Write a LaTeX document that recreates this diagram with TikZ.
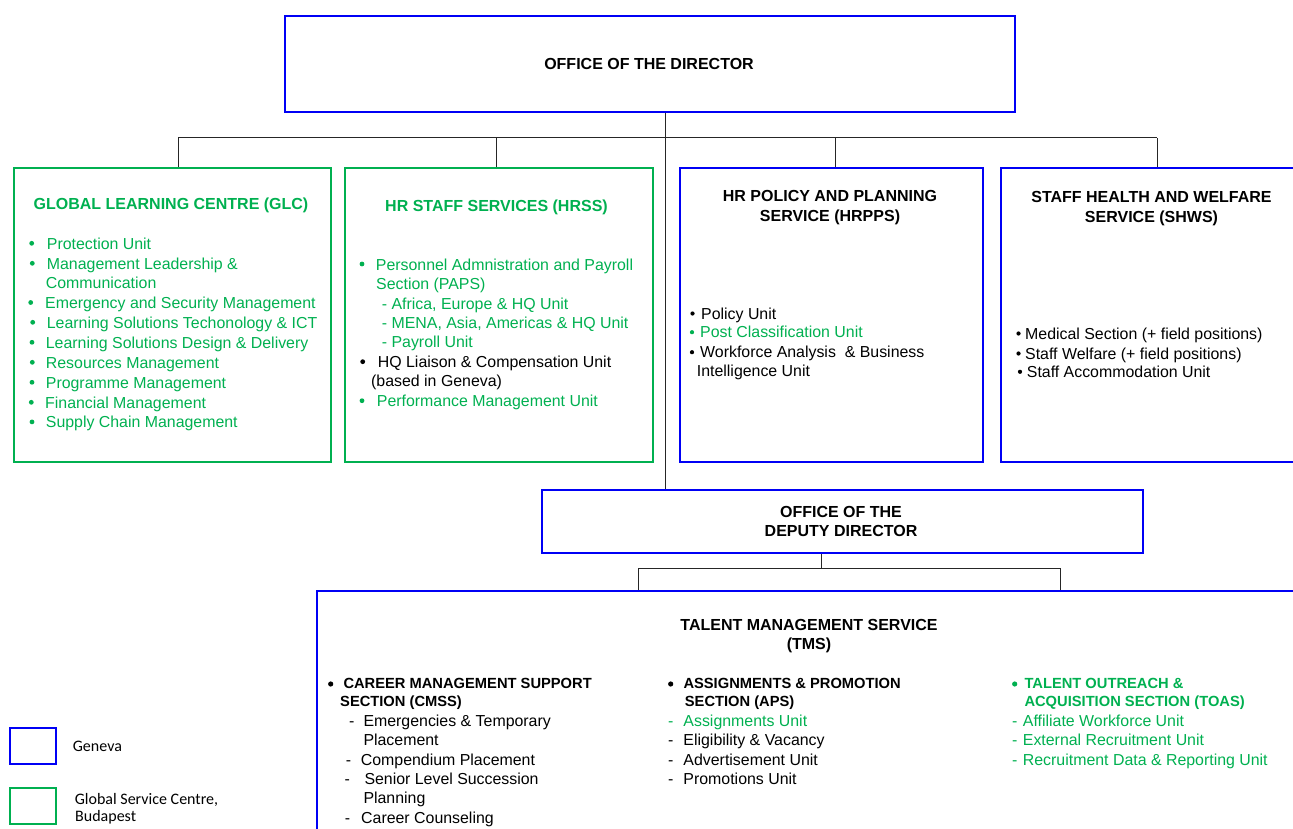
\documentclass[tikz,border=0pt]{standalone}
\usepackage{fontspec}
\setmainfont{Liberation Sans}
\newfontfamily\legendfont{Carlito}
\definecolor{gscGreen}{RGB}{0,176,80}
\definecolor{genBlue}{RGB}{0,0,245}
\newcommand\regfont{\fontsize{15.9}{19.7}\selectfont}
\newcommand\headfont{\bfseries\fontsize{16}{20}\selectfont}
\newcommand\secfont{\bfseries\fontsize{14.7}{18}\selectfont}
\newcommand\legfont{\legendfont\fontsize{16}{18}\selectfont}
% hyphen hung to the left of an entry, #1 = gap before the text (pt)
\newcommand\dsh[1]{\llap{-\hspace*{#1pt}}}

\begin{document}
\begin{tikzpicture}[x=1pt,y=-1pt,
  unitbox/.style={draw, line width=2pt, inner sep=0pt, anchor=north west},
  geneva/.style={unitbox, draw=genBlue},
  budapest/.style={unitbox, draw=gscGreen},
  link/.style={line width=1pt, draw=black!85},
  entry/.style={anchor=base west, inner sep=0pt, font=\regfont},
  title/.style={anchor=base, inner sep=0pt, font=\headfont},
  section/.style={anchor=base west, inner sep=0pt, font=\secfont},
  legendtext/.style={anchor=base west, inner sep=0pt, font=\legfont},
]
\useasboundingbox (0,0) rectangle (1293,829);
\clip (0,0) rectangle (1293,829);

% ---------- boxes ----------
\node[geneva,   minimum width=730,  minimum height=96]  (director) at (284,15)  {};
\node[budapest, minimum width=317,  minimum height=294] (glc)      at (13,167)  {};
\node[budapest, minimum width=308,  minimum height=294] (hrss)     at (344,167) {};
\node[geneva,   minimum width=303,  minimum height=294] (hrpps)    at (679,167) {};
\node[geneva,   minimum width=330,  minimum height=294] (shws)     at (1000,167) {};
\node[geneva,   minimum width=601,  minimum height=63]  (deputy)   at (541,489) {};
\node[geneva,   minimum width=1000, minimum height=300] (tms)      at (316,590) {};

% ---------- connectors ----------
\coordinate (trunk) at (665,138);
\coordinate (j1) at (178,138);
\coordinate (j2) at (496,138);
\coordinate (j3) at (835,138);
\coordinate (j4) at (1157,138);
\draw[link] (director.south -| trunk) -- (deputy.north -| trunk);
\draw[link] (j1) -- (j4);
\foreach \j/\b in {j1/glc, j2/hrss, j3/hrpps, j4/shws}
  \draw[link] (\j) -- (\j |- \b.north);

\coordinate (k0) at (821,568);
\coordinate (k1) at (638,568);
\coordinate (k2) at (1060,568);
\draw[link] (deputy.south -| k0) -- (k0);
\draw[link] (k1) -- (k2);
\foreach \k in {k1,k2}
  \draw[link] (\k) -- (\k |- tms.north);

% ---------- titles ----------
\node[title] (directorT) at (649,69.5) {OFFICE OF THE DIRECTOR};
\node[title, text=gscGreen] (glcT)  at (171,210) {GLOBAL LEARNING CENTRE (GLC)};
\node[title, text=gscGreen] (hrssT) at (496.5,211.5) {HR STAFF SERVICES (HRSS)};
\node[title] (hrppsT1) at (830,202) {HR POLICY AND PLANNING};
\node[title] (hrppsT2) at (830,222) {SERVICE (HRPPS)};
\node[title] (shwsT1) at (1151.5,202.7) {STAFF HEALTH AND WELFARE};
\node[title] (shwsT2) at (1151.5,222.5) {SERVICE (SHWS)};
\node[title] (deputyT1) at (841,517.5) {OFFICE OF THE};
\node[title] (deputyT2) at (841,536.5) {DEPUTY DIRECTOR};
\node[title] (tmsT1) at (809,630.5) {TALENT MANAGEMENT SERVICE};
\node[title] (tmsT2) at (809,649.5) {(TMS)};

% ---------- Global Learning Centre ----------
\foreach \x/\y/\t [count=\i] in {
  46.7/249.3/{Protection Unit},
  46.7/269.3/{Management Leadership \&},
  45.7/288.8/{Communication},
  45/308.5/{Emergency and Security Management},
  46.7/328.3/{Learning Solutions Techonology \& ICT},
  45.7/348.3/{Learning Solutions Design \& Delivery},
  45.7/368.3/{Resources Management},
  45.7/388.3/{Programme Management},
  45/408.3/{Financial Management},
  45.7/427.9/{Supply Chain Management}}
  \node[entry, text=gscGreen] (glc-\i) at (\x,\y) {\t};

% ---------- HR Staff Services ----------
\foreach \x/\y/\c/\t [count=\i] in {
  375.7/270/gscGreen/{Personnel Admnistration and Payroll},
  376/289/gscGreen/{Section (PAPS)},
  381.7/309/gscGreen/{- Africa, Europe \& HQ Unit},
  381.7/328.7/gscGreen/{- MENA, Asia, Americas \& HQ Unit},
  381.7/347.7/gscGreen/{- Payroll Unit},
  377.7/367.7/black/{HQ Liaison \& Compensation Unit},
  371/386.7/black/{(based in Geneva)},
  376.7/406.7/gscGreen/{Performance Management Unit}}
  \node[entry, text=\c] (hrss-\i) at (\x,\y) {\t};

% ---------- HR Policy and Planning ----------
\foreach \x/\y/\c/\t [count=\i] in {
  701/319/black/{Policy Unit},
  700/337.7/gscGreen/{Post Classification Unit},
  700/357.7/black/{Workforce Analysis\ \ \& Business},
  696.7/376.7/black/{Intelligence Unit}}
  \node[entry, text=\c] (hrpps-\i) at (\x,\y) {\t};

% ---------- Staff Health and Welfare ----------
\foreach \x/\y/\t [count=\i] in {
  1025/339/{Medical Section (+ field positions)},
  1025/359/{Staff Welfare (+ field positions)},
  1026.7/377.3/{Staff Accommodation Unit}}
  \node[entry] (shws-\i) at (\x,\y) {\t};

% ---------- Talent Management Service sections ----------
\node[section] (cmss1) at (343.3,688.3) {CAREER MANAGEMENT SUPPORT};
\node[section] (cmss2) at (340,706.7) {SECTION (CMSS)};
\foreach \x/\y/\t [count=\i] in {
  363.3/726.7/{\dsh{9}Emergencies \& Temporary},
  363.3/745.7/{Placement},
  360.7/765.3/{\dsh{9.7}Compendium Placement},
  364.3/784.3/{\dsh{14.6}Senior Level Succession},
  363.3/803.7/{Planning},
  361/823.5/{\dsh{11}Career Counseling}}
  \node[entry] (cmss-\i) at (\x,\y) {\t};

\node[section] (aps1) at (683.3,688.3) {ASSIGNMENTS \& PROMOTION};
\node[section] (aps2) at (684.7,706.7) {SECTION (APS)};
\foreach \y/\c/\t [count=\i] in {
  726.7/gscGreen/{Assignments Unit},
  745.7/black/{Eligibility \& Vacancy},
  765.3/black/{Advertisement Unit},
  784.5/black/{Promotions Unit}}
  \node[entry, text=\c] (aps-\i) at (683.3,\y) {\dsh{10}\t};

\node[section, text=gscGreen] (toas1) at (1024.3,688.3) {TALENT OUTREACH \&};
\node[section, text=gscGreen] (toas2) at (1024.3,706.7) {ACQUISITION SECTION (TOAS)};
\foreach \y/\t [count=\i] in {
  726.7/{Affiliate Workforce Unit},
  745.7/{External Recruitment Unit},
  765.3/{Recruitment Data \& Reporting Unit}}
  \node[entry, text=gscGreen] (toas-\i) at (1022.7,\y) {\dsh{5.4}\t};

% ---------- bullets ----------
\foreach \x/\y/\c/\r in {
  31.7/243.3/gscGreen/2.4, 32.3/263.3/gscGreen/2.4, 30.7/302.5/gscGreen/2.4,
  32.7/322.3/gscGreen/2.4, 32/342.3/gscGreen/2.4, 32.3/362.3/gscGreen/2.4,
  32/382.3/gscGreen/2.4, 31.3/402.3/gscGreen/2.4, 32/421.9/gscGreen/2.4,
  362/264/gscGreen/2.4, 362.7/361.7/black/2.4, 362/400.7/gscGreen/2.4,
  692.5/313.5/black/2.1, 692/332.2/gscGreen/2.1, 692/352.2/black/2.1,
  1018.5/333.5/black/2.1, 1018.5/353.5/black/2.1, 1020/371.8/black/2.1,
  330.7/684/black/2.6, 670.7/684/black/2.6, 1014.7/684/gscGreen/2.6}
  \fill[\c] (\x,\y) circle (\r);

% ---------- legend ----------
\node[geneva,   minimum width=46, minimum height=36] (legGeneva)   at (9,727.3) {};
\node[budapest, minimum width=46, minimum height=36] (legBudapest) at (9,786.5) {};
\node[legendtext] (legGenevaT)  at (72.7,751.7) {Geneva};
\node[legendtext] (legBudapestT1) at (74.7,804) {Global Service Centre,};
\node[legendtext] (legBudapestT2) at (75,821.7) {Budapest};
\end{tikzpicture}
\end{document}
